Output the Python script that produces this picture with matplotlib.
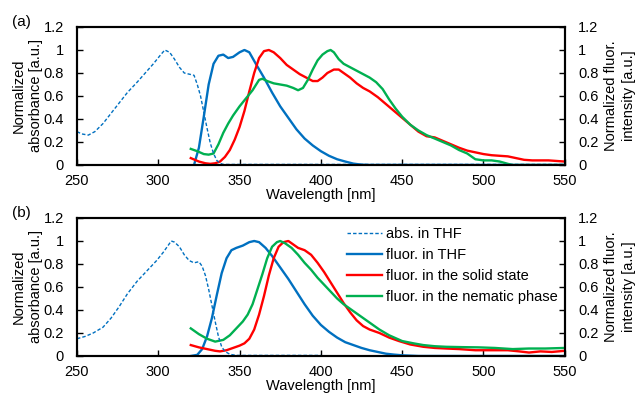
import matplotlib
matplotlib.use('Agg')
import matplotlib.pyplot as plt

plt.rcParams['font.family'] = ['Liberation Sans', 'DejaVu Sans']
plt.rcParams['font.size'] = 10.5

blue = '#0070C0'
red = '#FF0000'
green = '#00B050'

# panel (a) data
a_abs_x = [250, 253, 257, 261, 266, 271, 276, 281, 287, 292, 297, 301, 304, 307, 310, 313, 316, 319, 322,
           324, 326, 328, 330, 332, 334, 336, 338, 340, 345, 400, 450, 500, 550]
a_abs_y = [0.29, 0.27, 0.26, 0.29, 0.36, 0.45, 0.54, 0.63, 0.72, 0.80, 0.88, 0.95, 1.0, 0.98, 0.92, 0.85,
           0.80, 0.79, 0.78, 0.70, 0.60, 0.46, 0.32, 0.19, 0.10, 0.04, 0.015, 0.005, 0.005, 0.005, 0.005,
           0.005, 0.005]
a_thf_x = [322, 325, 328, 331, 334, 337, 340, 343, 346, 350, 353, 356, 360, 365, 370, 375, 380, 385, 390,
           395, 400, 405, 410, 415, 420, 425, 430, 550]
a_thf_y = [0, 0.15, 0.42, 0.70, 0.88, 0.95, 0.96, 0.93, 0.94, 0.98, 1.0, 0.98, 0.88, 0.76, 0.63, 0.51,
           0.41, 0.31, 0.23, 0.17, 0.12, 0.08, 0.05, 0.03, 0.012, 0.003, 0, 0]
a_sol_x = [320, 325, 329, 332, 335, 338, 341, 344, 347, 350, 353, 356, 359, 362, 365, 368, 371, 375, 379,
           383, 387, 391, 395, 398, 401, 404, 408, 411, 414, 418, 422, 426, 430, 435, 440, 445, 450, 455,
           460, 465, 470, 475, 480, 485, 490, 495, 500, 505, 510, 515, 520, 525, 530, 540, 550]
a_sol_y = [0.06, 0.03, 0.015, 0.01, 0.015, 0.03, 0.07, 0.13, 0.22, 0.33, 0.47, 0.64, 0.80, 0.93, 0.99,
           1.0, 0.98, 0.93, 0.87, 0.83, 0.79, 0.76, 0.73, 0.73, 0.76, 0.80, 0.83, 0.83, 0.80, 0.76, 0.71,
           0.67, 0.64, 0.59, 0.53, 0.47, 0.41, 0.35, 0.29, 0.25, 0.24, 0.21, 0.18, 0.15, 0.125, 0.11, 0.095,
           0.085, 0.08, 0.075, 0.06, 0.045, 0.04, 0.04, 0.03]
a_nem_x = [320, 324, 328, 331, 334, 337, 340, 343, 346, 350, 354, 358, 362, 364, 367, 371, 375, 379, 383,
           386, 389, 392, 395, 398, 401, 404, 406, 408, 411, 414, 418, 422, 426, 430, 434, 438, 442, 446,
           450, 455, 460, 465, 470, 475, 480, 485, 490, 495, 500, 505, 510, 515, 518, 550]
a_nem_y = [0.14, 0.12, 0.095, 0.09, 0.10, 0.18, 0.28, 0.36, 0.43, 0.51, 0.58, 0.65, 0.74, 0.75, 0.73,
           0.71, 0.70, 0.69, 0.67, 0.65, 0.67, 0.74, 0.83, 0.91, 0.96, 0.99, 1.0, 0.98, 0.92, 0.88, 0.85,
           0.82, 0.79, 0.76, 0.72, 0.66, 0.57, 0.49, 0.42, 0.35, 0.30, 0.26, 0.23, 0.20, 0.17, 0.13, 0.10,
           0.05, 0.04, 0.04, 0.03, 0.01, 0, 0]

# panel (b) data
b_abs_x = [250, 255, 260, 266, 271, 276, 281, 287, 293, 299, 303, 306, 308, 310, 313, 316, 319, 322, 325,
           327, 329, 331, 333, 335, 337, 339, 341, 344, 348, 400]
b_abs_y = [0.15, 0.17, 0.20, 0.25, 0.33, 0.43, 0.54, 0.65, 0.74, 0.83, 0.90, 0.96, 1.0, 0.99, 0.95, 0.88,
           0.83, 0.81, 0.82, 0.78, 0.70, 0.58, 0.44, 0.30, 0.17, 0.08, 0.04, 0.015, 0.005, 0.005]
b_thf_x = [320, 324, 327, 330, 333, 336, 339, 342, 345, 348, 352, 356, 359, 362, 366, 370, 375, 380, 385,
           390, 395, 400, 405, 410, 415, 420, 425, 430, 435, 440, 445, 450, 460, 550]
b_thf_y = [0, 0.01, 0.06, 0.17, 0.33, 0.53, 0.72, 0.85, 0.92, 0.94, 0.96, 0.99, 1.0, 0.99, 0.94, 0.87,
           0.77, 0.67, 0.56, 0.45, 0.35, 0.27, 0.21, 0.16, 0.12, 0.095, 0.07, 0.05, 0.035, 0.02, 0.012,
           0.006, 0, 0]
b_sol_x = [320, 325, 330, 335, 338, 342, 346, 350, 353, 356, 359, 362, 365, 368, 371, 374, 377, 380, 383,
           386, 390, 394, 398, 402, 406, 410, 414, 418, 422, 426, 430, 436, 442, 448, 455, 463, 470, 477,
           485, 495, 505, 515, 522, 528, 535, 542, 550]
b_sol_y = [0.095, 0.075, 0.06, 0.045, 0.04, 0.05, 0.07, 0.09, 0.11, 0.15, 0.23, 0.36, 0.52, 0.70, 0.85,
           0.95, 0.99, 1.0, 0.97, 0.94, 0.92, 0.88, 0.81, 0.73, 0.64, 0.55, 0.46, 0.38, 0.31, 0.26, 0.23,
           0.20, 0.16, 0.13, 0.10, 0.08, 0.07, 0.065, 0.06, 0.05, 0.05, 0.05, 0.04, 0.03, 0.04, 0.035, 0.045]
b_nem_x = [320, 325, 330, 335, 340, 344, 348, 352, 355, 358, 361, 364, 367, 370, 373, 375, 378, 382, 386,
           390, 394, 398, 402, 406, 410, 414, 418, 422, 426, 430, 436, 442, 450, 457, 463, 470, 477, 487,
           497, 507, 518, 528, 538, 550]
b_nem_y = [0.24, 0.19, 0.15, 0.125, 0.14, 0.18, 0.24, 0.30, 0.36, 0.45, 0.58, 0.71, 0.85, 0.95, 0.99,
           1.0, 0.98, 0.94, 0.88, 0.81, 0.75, 0.68, 0.62, 0.56, 0.50, 0.45, 0.41, 0.37, 0.33, 0.29, 0.23,
           0.18, 0.13, 0.11, 0.095, 0.085, 0.08, 0.077, 0.075, 0.07, 0.06, 0.065, 0.065, 0.07]

x_ticks = [250, 300, 350, 400, 450, 500, 550]
y_ticks = [0, 0.2, 0.4, 0.6, 0.8, 1, 1.2]
y_ticklabels = ['0', '0.2', '0.4', '0.6', '0.8', '1', '1.2']

labels = ['abs. in THF', 'fluor. in THF', 'fluor. in the solid state', 'fluor. in the nematic phase']

fig = plt.figure(figsize=(6.36, 3.97), dpi=100)

panels = [
    (0.5844, '(a)', (a_abs_x, a_abs_y), (a_thf_x, a_thf_y), (a_sol_x, a_sol_y), (a_nem_x, a_nem_y)),
    (0.1033, '(b)', (b_abs_x, b_abs_y), (b_thf_x, b_thf_y), (b_sol_x, b_sol_y), (b_nem_x, b_nem_y)),
]

for i, (bottom, tag, ab, thf, sol, nem) in enumerate(panels):
    ax = fig.add_axes([0.121, bottom, 0.767, 0.3476])
    ax2 = ax.twinx()
    l2, = ax2.plot(*thf, color=blue, lw=1.7)
    l3, = ax2.plot(*sol, color=red, lw=1.7)
    l4, = ax2.plot(*nem, color=green, lw=1.7)
    l1, = ax2.plot(*ab, color=blue, lw=1.0, ls=(0, (2.5, 1.5)))
    for a in (ax, ax2):
        a.set_xlim(250, 550)
        a.set_ylim(0, 1.2)
        a.set_yticks(y_ticks)
        a.set_yticklabels(y_ticklabels)
        for s in a.spines.values():
            s.set_linewidth(1.5)
    ax.set_xticks(x_ticks)
    ax.tick_params(axis='y', direction='in', length=4, width=1, pad=9.5, labelsize=10.5)
    ax.tick_params(axis='x', direction='in', length=4, width=1, pad=6.5, labelsize=10.5)
    ax2.tick_params(axis='y', direction='in', length=4, width=1, pad=9.5, labelsize=10.5)

    fig.text(0.0432, bottom + 0.1738, 'Normalized\nabsorbance [a.u.]', rotation=90,
             ha='center', va='center', multialignment='center', linespacing=1.3)
    fig.text(0.975, bottom + 0.1738, 'Normalized fluor.\nintensity [a.u.]', rotation=90,
             ha='center', va='center', multialignment='center', linespacing=1.3)
    fig.text(0.505, bottom - 0.0845, 'Wavelength [nm]', ha='center', va='baseline')
    fig.text(0.034, bottom + 0.3476 + 0.012, tag, ha='center', va='center', fontsize=11)

    if i == 1:
        ax2.legend([l1, l2, l3, l4], labels, loc='upper left', bbox_to_anchor=(0.553, 0.936),
                   frameon=False, borderpad=0, borderaxespad=0, handlelength=2.4,
                   handletextpad=0.3, labelspacing=0.49, fontsize=10.5)

fig.savefig('out.png', dpi=100)
